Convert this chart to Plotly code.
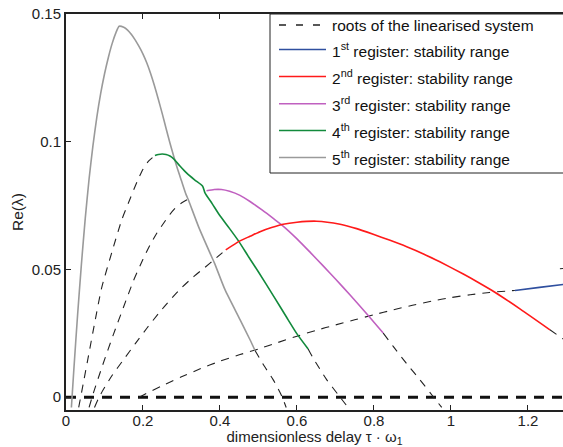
import plotly.graph_objects as go

# ---- root branches of the linearised system (dashed) and stability ranges (solid) ----
# register 1
r1_root_x = [0.19, 0.20, 0.25, 0.30, 0.35, 0.40, 0.45, 0.50, 0.55, 0.60, 0.65, 0.70, 0.75,
             0.80, 0.85, 0.90, 0.95, 1.00, 1.05, 1.10, 1.166]
r1_root_y = [0.0, 0.0008, 0.0045, 0.0080, 0.0112, 0.0141, 0.0166, 0.0189, 0.0214, 0.0239, 0.0262,
             0.0283, 0.0303, 0.0323, 0.0342, 0.0360, 0.0376, 0.0390, 0.0401, 0.0410, 0.0418]
r1_stab_x = [1.166, 1.23, 1.295]
r1_stab_y = [0.0418, 0.0430, 0.0442]

# register 2
r2_root_x = [0.074, 0.085, 0.097, 0.12, 0.15, 0.18, 0.21, 0.24, 0.27, 0.30, 0.33, 0.36, 0.39, 0.415]
r2_root_y = [-0.004, -0.0003, 0.0030, 0.0086, 0.0148, 0.0210, 0.0270, 0.0327, 0.0380, 0.0428,
             0.0470, 0.0507, 0.0545, 0.0577]
r2_stab_x = [0.415, 0.452, 0.478, 0.504, 0.534, 0.564, 0.60, 0.651, 0.712, 0.755, 0.798, 0.84,
             0.885, 0.93, 0.971, 1.032, 1.07, 1.114, 1.18, 1.257]
r2_stab_y = [0.0577, 0.0612, 0.0630, 0.0648, 0.0664, 0.0677, 0.0685, 0.0689, 0.0677, 0.0660, 0.0638,
             0.0615, 0.0589, 0.0560, 0.0530, 0.0482, 0.0450, 0.0411, 0.0345, 0.0264]
r2_tail_x = [1.257, 1.30]
r2_tail_y = [0.0264, 0.0219]

# register 3
r3_root_x = [0.060, 0.071, 0.095, 0.123, 0.15, 0.175, 0.20, 0.218, 0.235, 0.253, 0.27, 0.287, 0.302, 0.316]
r3_root_y = [-0.004, 0.0016, 0.0125, 0.0245, 0.0355, 0.0455, 0.0540, 0.0595, 0.0640, 0.0680, 0.0716,
             0.0745, 0.0762, 0.0774]
r3_stab_x = [0.365, 0.385, 0.404, 0.425, 0.452, 0.478, 0.51, 0.54, 0.564, 0.60, 0.635, 0.668, 0.70,
             0.738, 0.785, 0.824]
r3_stab_y = [0.0808, 0.0813, 0.0813, 0.0806, 0.0790, 0.0766, 0.0732, 0.0698, 0.0670, 0.0620, 0.0566,
             0.0514, 0.0463, 0.0400, 0.0320, 0.0251]
r3_tail_x = [0.824, 0.850, 0.885, 0.919, 0.955, 0.976]
r3_tail_y = [0.0251, 0.0199, 0.0131, 0.0069, 0.0, -0.004]

# register 4
r4_root_x = [0.033, 0.045, 0.06, 0.075, 0.0926, 0.12, 0.145, 0.166, 0.185, 0.20, 0.215, 0.231]
r4_root_y = [-0.004, 0.0055, 0.0175, 0.0295, 0.0428, 0.0572, 0.0695, 0.0775, 0.0845, 0.0892,
             0.0925, 0.0946]
r4_stab_x = [0.231, 0.24, 0.25, 0.26, 0.27, 0.279, 0.296, 0.313, 0.334, 0.355, 0.361, 0.38, 0.40,
             0.425, 0.448, 0.475, 0.50, 0.54, 0.573, 0.60, 0.629]
r4_stab_y = [0.0946, 0.0950, 0.0952, 0.0950, 0.0944, 0.0934, 0.0905, 0.0878, 0.0851, 0.0826, 0.0800,
             0.0757, 0.0710, 0.0660, 0.0612, 0.0548, 0.0490, 0.0394, 0.0313, 0.0248, 0.0189]
r4_tail_x = [0.629, 0.642, 0.677, 0.707, 0.729]
r4_tail_y = [0.0189, 0.0153, 0.0069, 0.001, -0.0033]

# register 5
r5_stab_x = [0.014, 0.020, 0.030, 0.040, 0.050, 0.060, 0.070, 0.080, 0.090, 0.100, 0.110, 0.120,
             0.130, 0.138, 0.150, 0.160, 0.170, 0.180, 0.190, 0.200, 0.210, 0.220, 0.230, 0.240,
             0.250, 0.260, 0.270, 0.280, 0.290, 0.300, 0.312, 0.318, 0.345, 0.378, 0.386, 0.413,
             0.452, 0.478, 0.491]
r5_stab_y = [-0.004, 0.0100, 0.0320, 0.0520, 0.0700, 0.0855, 0.0985, 0.1095, 0.1188, 0.1265, 0.1330,
             0.1385, 0.1428, 0.1452, 0.1448, 0.1437, 0.1420, 0.1398, 0.1372, 0.1343, 0.1308, 0.1266,
             0.1218, 0.1165, 0.1110, 0.1052, 0.0995, 0.0942, 0.0892, 0.0847, 0.0793, 0.0772, 0.0665,
             0.0551, 0.0524, 0.0421, 0.0304, 0.0225, 0.0183]
r5_tail_x = [0.491, 0.515, 0.538, 0.560, 0.572]
r5_tail_y = [0.0183, 0.0122, 0.0069, 0.0006, -0.004]

# further branch entering at the right border
edge_root_x = [1.283, 1.30]
edge_root_y = [0.0503, 0.0505]

zero_x = [0.0, 1.30]
zero_y = [0.0, 0.0]

x_ticks = [0, 0.2, 0.4, 0.6, 0.8, 1.0, 1.2]
y_ticks = [0, 0.05, 0.1, 0.15]

ROOT_COLOR = "#222222"
ROOT_DASH = "8px,7px"
FONT = "Liberation Sans, Arial, sans-serif"
register_colors = ["#2f4f9f", "#ff1a1a", "#c060c0", "#128a3c", "#9a9a9a"]
legend_labels = [
    "roots of the linearised system",
    "1<sup>st</sup> register: stability range",
    "2<sup>nd</sup> register: stability range",
    "3<sup>rd</sup> register: stability range",
    "4<sup>th</sup> register: stability range",
    "5<sup>th</sup> register: stability range",
]

fig = go.Figure()

# thick zero reference
fig.add_trace(go.Scatter(x=zero_x, y=zero_y, mode="lines", showlegend=False, hoverinfo="skip",
                         line=dict(color="#111111", width=3, dash="10px,8px")))

roots = [
    (r1_root_x, r1_root_y), (r2_root_x, r2_root_y), (r2_tail_x, r2_tail_y),
    (r3_root_x, r3_root_y), (r3_tail_x, r3_tail_y),
    (r4_root_x, r4_root_y), (r4_tail_x, r4_tail_y),
    (r5_tail_x, r5_tail_y), (edge_root_x, edge_root_y),
]
for rx, ry in roots:
    fig.add_trace(go.Scatter(
        x=rx, y=ry, mode="lines", name=legend_labels[0], showlegend=False,
        line=dict(color=ROOT_COLOR, width=1.1, dash=ROOT_DASH, shape="spline", smoothing=0.6)))

stab = [(r1_stab_x, r1_stab_y), (r2_stab_x, r2_stab_y), (r3_stab_x, r3_stab_y),
        (r4_stab_x, r4_stab_y), (r5_stab_x, r5_stab_y)]
# higher registers first so lower ones sit on top
for k in [4, 3, 2, 1, 0]:
    sx, sy = stab[k]
    fig.add_trace(go.Scatter(
        x=sx, y=sy, mode="lines", name=legend_labels[k + 1], showlegend=False,
        line=dict(color=register_colors[k], width=1.6, shape="spline", smoothing=0.6)))

# ---- boxed legend in the upper right corner (paper coordinates) ----
plot_left, plot_top, plot_w, plot_h = 66, 14, 497, 396


def px_to_paper_x(px):
    return (px - plot_left) / plot_w


def px_to_paper_y(py):
    return (plot_top + plot_h - py) / plot_h


shapes = [dict(type="rect", xref="paper", yref="paper",
               x0=px_to_paper_x(270), x1=1.05, y0=px_to_paper_y(173), y1=1.0,
               line=dict(color="#222222", width=1), fillcolor="white", layer="above")]
annotations = []
row_y = [25, 49.5, 76.5, 103.8, 130.5, 157.5]
sample_colors = [ROOT_COLOR] + register_colors
for i, label in enumerate(legend_labels):
    yy = px_to_paper_y(row_y[i])
    shapes.append(dict(type="line", xref="paper", yref="paper",
                       x0=px_to_paper_x(279), x1=px_to_paper_x(326), y0=yy, y1=yy,
                       line=dict(color=sample_colors[i], width=1.3 if i == 0 else 1.6,
                                 dash="7px,10px" if i == 0 else "solid"),
                       layer="above"))
    annotations.append(dict(xref="paper", yref="paper", x=px_to_paper_x(330), y=yy,
                            xanchor="left", yanchor="middle", showarrow=False, text=label,
                            font=dict(family=FONT, size=15.5, color="#111111")))

axis_font = dict(family=FONT, size=15.5, color="#222222")
xtitle_font = dict(family=FONT, size=15, color="#222222")
tick_font = dict(family=FONT, size=15, color="#222222")

fig.update_layout(
    width=563, height=447,
    margin=dict(l=plot_left, r=0, t=plot_top, b=447 - plot_top - plot_h),
    paper_bgcolor="white", plot_bgcolor="white",
    font=axis_font,
    showlegend=False,
    shapes=shapes,
    annotations=annotations,
    xaxis=dict(
        range=[0, 1.291], tickvals=x_ticks, ticks="inside", ticklen=5, tickwidth=1,
        tickcolor="#222222", showline=True, linewidth=2, linecolor="#222222", mirror="ticks",
        showgrid=False, zeroline=False, tickfont=tick_font, ticklabelstandoff=-4,
        title=dict(text="dimensionless delay τ · ω<sub>1</sub>", standoff=4, font=xtitle_font),
    ),
    yaxis=dict(
        range=[-0.005, 0.15], tickvals=y_ticks, ticks="inside", ticklen=5, tickwidth=1,
        tickcolor="#222222", showline=True, linewidth=2, linecolor="#222222", mirror=False,
        showgrid=False, zeroline=False, tickfont=tick_font,
        title=dict(text="Re(λ)", standoff=4, font=axis_font),
    ),
)

fig.write_html("out.html")
